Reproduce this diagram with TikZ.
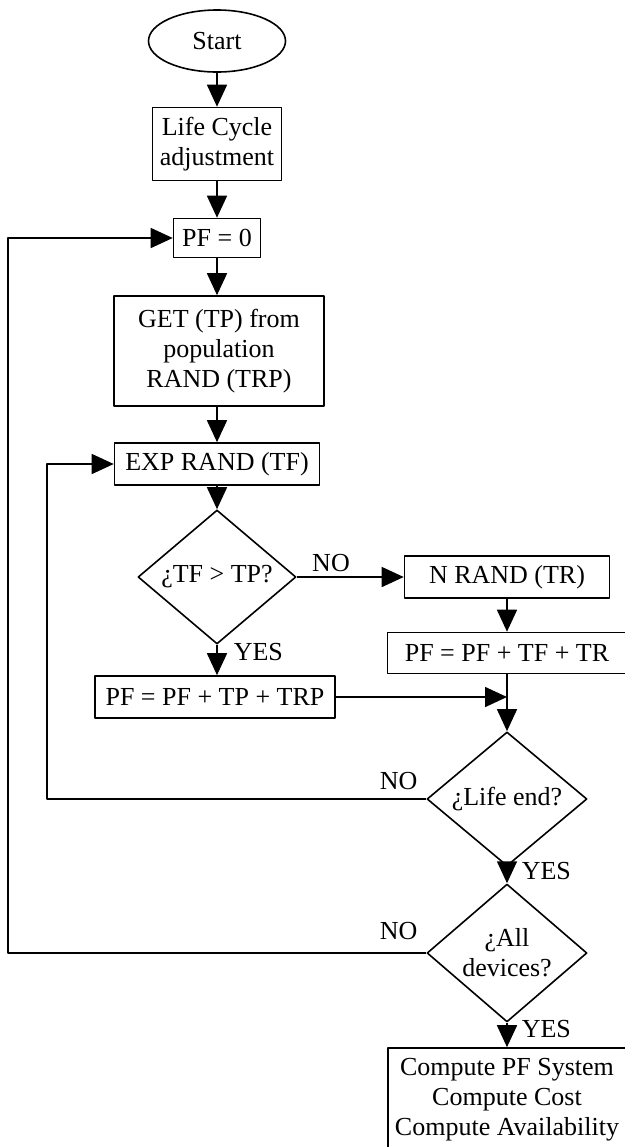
\documentclass[tikz,border=0pt]{standalone}
\usepackage{fontspec}
\setmainfont{Liberation Serif}
\usetikzlibrary{arrows.meta,shapes.geometric}
\tikzset{
  every picture/.style={font=\fontsize{13}{15}\selectfont, line join=round, line width=0.8pt, >={Triangle[length=11pt,width=10pt]}},
  box/.style={draw, rectangle, align=center, inner sep=0pt},
  decision/.style={draw, diamond, align=center, inner sep=0pt},
  term/.style={draw, ellipse, inner sep=0pt},
  lbl/.style={inner sep=2pt},
}

\begin{document}
\begin{tikzpicture}[x=0.5pt,y=-0.5pt]
\useasboundingbox (0,0) rectangle (625,1147);
% main column
\node[term,minimum width=68.5pt,minimum height=31pt] (start) at (217,41) {Start};
\node[box,minimum width=64.5pt,minimum height=36.5pt] (life) at (217,144) {Life Cycle\\adjustment};
\node[box,minimum width=43.5pt,minimum height=19.5pt] (pf0) at (217,238) {PF = 0};
\node[box,minimum width=105pt,minimum height=55pt] (get) at (219,351) {GET (TP) from\\population\\RAND (TRP)};
\node[box,minimum width=102.5pt,minimum height=21pt] (exp) at (217,464) {EXP RAND (TF)};
\node[decision,minimum width=79pt,minimum height=56.5pt] (tftp) at (217,577) {¿TF > TP?};
\node[box,minimum width=120pt,minimum height=21pt] (pftp) at (215,697) {PF = PF + TP + TRP};
% right column
\node[box,minimum width=102.5pt,minimum height=21pt] (nrand) at (507,577) {N RAND (TR)};
\node[box,minimum width=119.5pt,minimum height=20.5pt] (pftr) at (507,653) {PF = PF + TF + TR};
\node[decision,minimum width=80pt,minimum height=57.5pt] (lifeend) at (507,799) {¿Life end?};
\node[decision,minimum width=80pt,minimum height=56.5pt] (alldev) at (507,953) {¿All\\devices?};
\node[box,minimum width=119pt,minimum height=52pt] (comp) at (507,1100) {Compute PF System\\Compute Cost\\Compute Availability};
\coordinate (join) at (pftr.south |- pftp.east);
\coordinate (inner) at (47,0);
\coordinate (outer) at (8,0);

\draw[->] (start)--(life);
\draw[->] (life)--(pf0);
\draw[->] (pf0.south)--(pf0.south |- get.north);
\draw[->] (get.south -| exp)--(exp);
\draw[->] (exp)--(tftp);
\draw[->] (tftp.east)--node[lbl,above,pos=0.32]{NO}(tftp.east -| nrand.west);
\draw[->] (tftp.south)--node[lbl,right=6pt,pos=0.25]{YES}(tftp.south |- pftp.north);
\draw[->] (nrand)--(pftr);
\draw[->] (pftp.east)--(join);
\draw[->] (pftr.south)--(lifeend.north);
\draw[->] (lifeend.west)node[lbl,above left=2pt]{NO}--(lifeend.west -| inner)|-(exp.west);
\draw[->] (lifeend.south)--node[lbl,right=5pt,pos=0.25]{YES}(alldev.north);
\draw[->] (alldev.west)node[lbl,above left=2pt,yshift=2pt]{NO}--(alldev.west -| outer)|-(pf0.west);
\draw[->] (alldev.south)--node[lbl,right=5pt,pos=0.25]{YES}(comp.north);
\end{tikzpicture}
\end{document}
